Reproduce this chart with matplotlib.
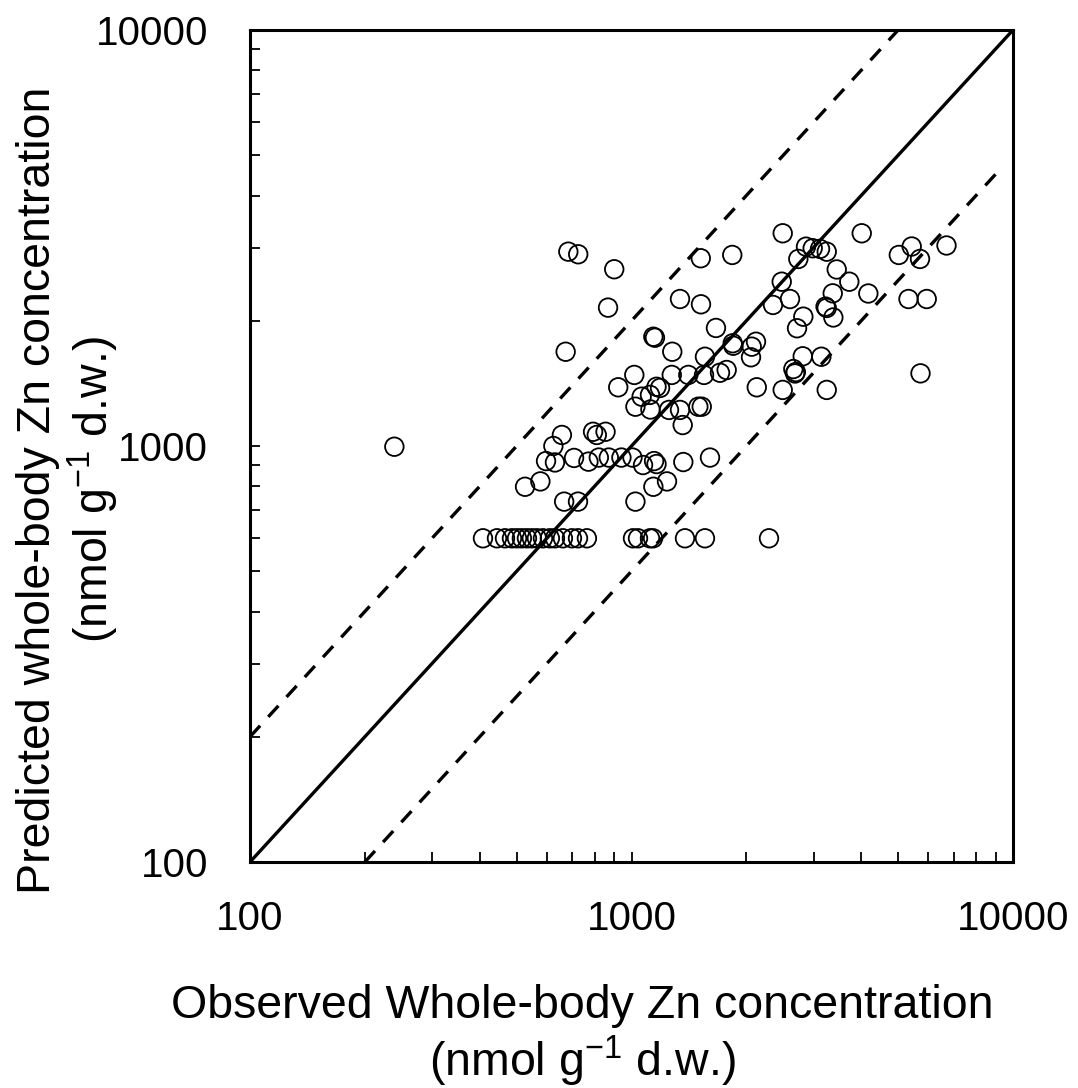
import matplotlib
matplotlib.use("Agg")
import matplotlib.pyplot as plt
import numpy as np

# Observed vs predicted whole-body Zn (nmol g-1 d.w.)
observed = [683, 725, 901, 1519, 1837, 2491, 4013, 2867, 2985, 3120, 3249, 2737,
            3451, 3723, 2476, 4176, 3369, 5020, 5426, 5705, 6694, 5322, 5941, 5722,
            868, 1340, 1521, 2603, 2349, 3226, 3249, 3381, 2821, 2716, 1665, 1141,
            1152, 672, 1279, 1558, 1842, 1848, 2120, 2066, 2057, 2811, 3145, 2656,
            2696, 2683, 1776, 1706, 1549, 1409, 1275, 1017, 2130, 2491, 3249, 923,
            1163, 1188, 1063, 1118, 1024, 1121, 1254, 1340, 1497, 1528, 1362, 657,
            624, 793, 811, 855, 239, 597, 630, 707, 771, 821, 872, 941, 1006, 1072,
            1146, 1163, 1367, 1606, 526, 577, 1141, 1239, 666, 724, 1024,
            408, 444, 466, 486, 501, 516, 532, 548, 565, 586, 611, 630, 661, 698,
            724, 764, 1009, 1040, 1118, 1139, 1381, 1558, 2293]
predicted = [2932, 2890, 2660, 2827, 2879, 3246, 3246, 3014, 2988, 2977, 2932, 2816,
             2657, 2483, 2483, 2326, 2328, 2879, 3017, 2816, 3034, 2256, 2256, 1495,
             2151, 2256, 2191, 2256, 2183, 2163, 2147, 2037, 2046, 1919, 1922, 1831,
             1821, 1685, 1685, 1639, 1766, 1742, 1781, 1733, 1634, 1643, 1639, 1531,
             1506, 1494, 1523, 1500, 1482, 1482, 1482, 1482, 1384, 1364, 1364, 1384,
             1388, 1379, 1314, 1327, 1243, 1224, 1221, 1221, 1243, 1243, 1123, 1063,
             1000, 1082, 1063, 1082, 996, 920, 913, 936, 917, 938, 938, 938, 938, 900,
             920, 905, 915, 938, 798, 822, 798, 822, 735, 735, 735,
             600, 600, 600, 600, 600, 600, 600, 600, 600, 600, 600, 600, 600, 600,
             600, 600, 600, 600, 600, 600, 600, 600, 600]

# Reference lines: 1:1, 2x and 0.5x
line_11_x = [100, 10000]
line_2x_x = [100, 5000]
line_half_x = [200, 9200]

x_ticks = [100, 1000, 10000]
y_ticks = [100, 1000, 10000]
tick_labels = ["100", "1000", "10000"]

plt.rcParams['font.family'] = ['Liberation Sans', 'DejaVu Sans']
plt.rcParams['mathtext.fontset'] = 'custom'
plt.rcParams['mathtext.rm'] = 'Liberation Sans'
plt.rcParams['mathtext.it'] = 'Liberation Sans'

fig = plt.figure(figsize=(10.78, 10.88), dpi=100)
ax = fig.add_axes([250/1078, 1 - 862/1088, (1013-250)/1078, (862-30)/1088])

ax.set_xscale('log')
ax.set_yscale('log')
ax.set_xlim(100, 10000)
ax.set_ylim(100, 10000)

ax.plot(line_11_x, line_11_x, color='black', lw=2.4, solid_capstyle='butt', zorder=2)
ax.plot(line_2x_x, [2*v for v in line_2x_x], color='black', lw=2.4,
        linestyle=(0, (4.5, 3.6)), dash_capstyle='butt', zorder=2)
ax.plot(line_half_x, [0.5*v for v in line_half_x], color='black', lw=2.4,
        linestyle=(0, (4.5, 3.6)), dash_capstyle='butt', zorder=2)

ax.scatter(observed, predicted, s=178, facecolors='none', edgecolors='black',
           linewidths=1.3, zorder=3)

for s in ax.spines.values():
    s.set_linewidth(2.2)

ax.set_xticks(x_ticks)
ax.set_xticklabels(tick_labels)
ax.set_yticks(y_ticks)
ax.set_yticklabels(tick_labels)
ax.tick_params(which='both', direction='in', top=False, right=False,
               length=7, width=1.3, labelsize=29)
ax.tick_params(axis='x', which='major', pad=27)
ax.tick_params(axis='y', which='major', pad=30)

ax.set_xlabel('Observed Whole-body Zn concentration\n(nmol g$^{-1}$ d.w.)',
              fontsize=33.5, linespacing=1.12)
ax.xaxis.set_label_coords(0.435, -0.147)
ax.set_ylabel('Predicted whole-body Zn concentration\n(nmol g$^{-1}$ d.w.)',
              fontsize=33.5, linespacing=1.15)
ax.yaxis.set_label_coords(-0.169, 0.447)

fig.savefig('out.png', dpi=100, facecolor='white')
